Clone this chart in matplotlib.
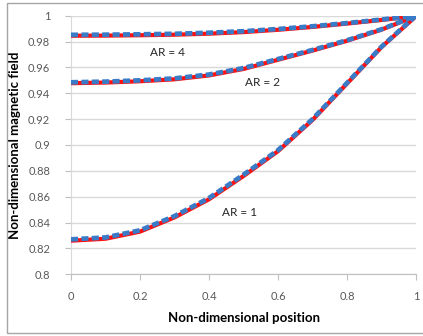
import matplotlib
matplotlib.use("Agg")
import matplotlib.pyplot as plt
from matplotlib.patches import Rectangle

plt.rcParams['font.family'] = ['Lato', 'DejaVu Sans']

positions = [0.0, 0.1, 0.2, 0.3, 0.4, 0.5, 0.6, 0.7, 0.8, 0.9, 1.0]

ar1_blue = [0.827, 0.8285, 0.834, 0.845, 0.859, 0.877, 0.896, 0.920, 0.948, 0.976, 1.0]
ar1_red = [0.826, 0.8275, 0.833, 0.844, 0.858, 0.876, 0.8952, 0.9193, 0.9475, 0.9757, 0.9996]
ar2_blue = [0.9485, 0.949, 0.950, 0.9515, 0.9545, 0.9595, 0.9665, 0.9735, 0.981, 0.9895, 1.0]
ar2_red = [0.9478, 0.9483, 0.9493, 0.9508, 0.9538, 0.9588, 0.9659, 0.973, 0.9806, 0.9892, 0.9997]
ar4_blue = [0.9852, 0.9853, 0.9856, 0.986, 0.9868, 0.988, 0.9897, 0.9918, 0.9943, 0.997, 1.0]
ar4_red = [0.9845, 0.9846, 0.9849, 0.9853, 0.9861, 0.9873, 0.9891, 0.9913, 0.9939, 0.9967, 0.9997]

y_ticks = [0.8, 0.82, 0.84, 0.86, 0.88, 0.9, 0.92, 0.94, 0.96, 0.98, 1.0]
y_tick_labels = ['0.8', '0.82', '0.84', '0.86', '0.88', '0.9', '0.92', '0.94', '0.96', '0.98', '1']
x_ticks = [0, 0.2, 0.4, 0.6, 0.8, 1.0]
x_tick_labels = ['0', '0.2', '0.4', '0.6', '0.8', '1']

labels = ['AR = 1', 'AR = 2', 'AR = 4']
label_pos = [(0.49, 0.848), (0.554, 0.9487), (0.281, 0.9712)]

BLUE = '#3A7BC8'
RED = '#FF1010'
GRID = '#D9D9D9'
TXT = '#595959'

fig = plt.figure(figsize=(4.23, 3.36), dpi=100)
fig.patches.append(Rectangle((7 / 423, 3 / 336), 1.2, 330 / 336, transform=fig.transFigure,
                             fill=False, edgecolor='#A6A6A6', linewidth=1.0))
ax = fig.add_axes([71 / 423, 1 - 274.3 / 336, (416 - 71) / 423, (274.3 - 15.7) / 336])

for red, blue in [(ar1_red, ar1_blue), (ar2_red, ar2_blue), (ar4_red, ar4_blue)]:
    ax.plot(positions, red, color=RED, lw=3.0, solid_capstyle='butt',
            solid_joinstyle='round', zorder=3)
    ax.plot(positions, blue, color=BLUE, lw=3.4, dashes=(1.5, 0.7),
            dash_capstyle='butt', dash_joinstyle='round', zorder=4)

for txt, (x, y) in zip(labels, label_pos):
    ax.text(x, y, txt, fontsize=8.5, color='#262626', ha='center', va='center', zorder=5)

ax.set_xlim(0, 1)
ax.set_ylim(0.8, 1.0)
ax.set_xticks(x_ticks)
ax.set_xticklabels(x_tick_labels)
ax.set_yticks(y_ticks)
ax.set_yticklabels(y_tick_labels)
ax.grid(axis='y', color=GRID, lw=1.0, zorder=0)
ax.set_axisbelow(True)

for s in ['top', 'right']:
    ax.spines[s].set_visible(False)
ax.spines['left'].set_color(GRID)
ax.spines['bottom'].set_color('#BFBFBF')
ax.tick_params(axis='both', colors='#BFBFBF', labelcolor=TXT, labelsize=8, length=4, width=0.8)
ax.tick_params(axis='y', pad=11)
ax.tick_params(axis='x', pad=8)

ax.set_xlabel('Non-dimensional position', fontsize=9.5, fontweight='bold', labelpad=7)
ax.set_ylabel('Non-dimensional magnetic field', fontsize=9.5, fontweight='bold', labelpad=5)

fig.savefig('out.png', dpi=100)
